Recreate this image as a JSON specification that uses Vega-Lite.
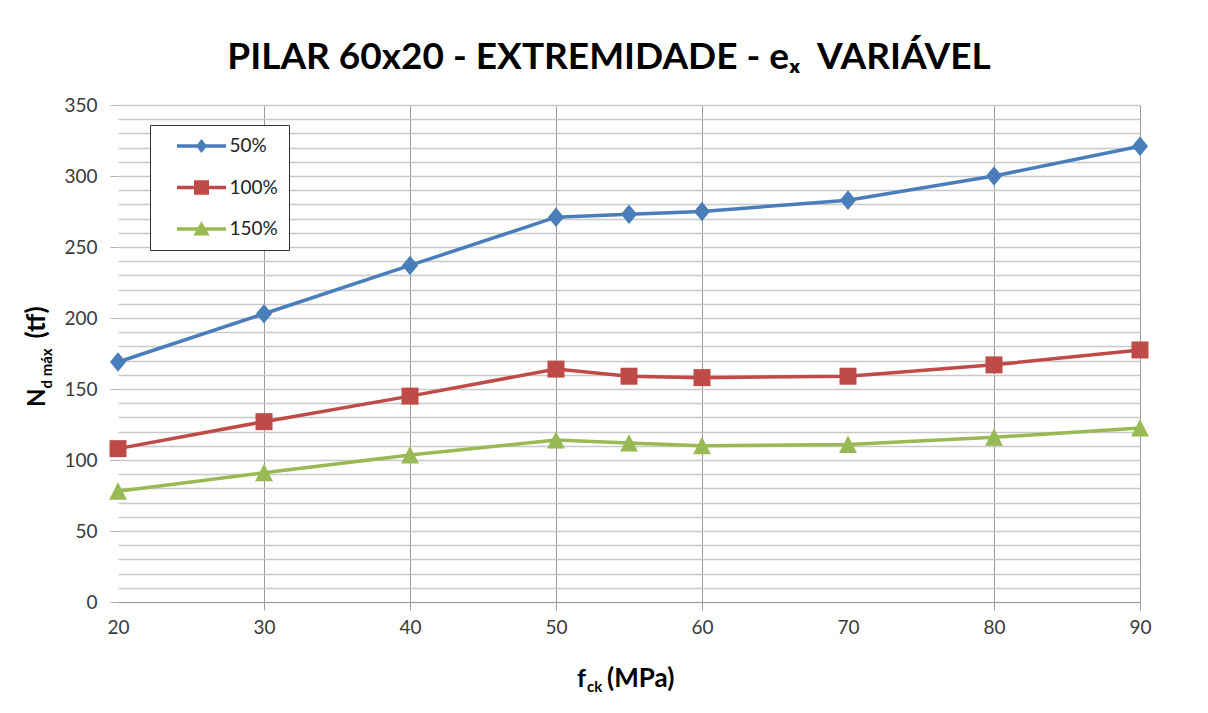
{
  "$schema": "https://vega.github.io/schema/vega-lite/v6.json",
  "width": 1022,
  "height": 497,
  "autosize": {"type": "none"},
  "padding": {"left": 118, "top": 105, "right": 68, "bottom": 111},
  "background": "white",
  "config": {
    "view": {"stroke": null},
    "font": "Lato",
    "axisX": {
      "grid": true, "gridColor": "#9a9a9a", "gridWidth": 1,
      "domain": true, "domainColor": "#a0a0a0", "domainWidth": 1,
      "ticks": true, "tickSize": 8, "tickColor": "#a0a0a0",
      "labelFont": "Lato", "labelFontSize": 19, "labelColor": "#3a3a3a",
      "labelPadding": 8, "labelFlush": false, "labelOverlap": false
    },
    "axisY": {
      "grid": true, "gridColor": "#c8c8c8", "gridWidth": 1.5,
      "domain": false,
      "ticks": true, "tickSize": 8, "tickColor": "#b0b0b0",
      "labelFont": "Lato", "labelFontSize": 19, "labelColor": "#3a3a3a",
      "labelPadding": 13, "labelOverlap": false
    }
  },
  "title": {
    "text": "PILAR 60x20 - EXTREMIDADE - eₓ \u00a0VARIÁVEL",
    "font": "Lato", "fontSize": 37, "fontWeight": "bold", "color": "#000000",
    "anchor": "middle", "frame": "group", "baseline": "alphabetic", "offset": -10, "dx": -20
  },
  "data": {"values": [
    {"fck": 20, "N": 169, "serie": "50%"},
    {"fck": 30, "N": 203, "serie": "50%"},
    {"fck": 40, "N": 237, "serie": "50%"},
    {"fck": 50, "N": 271, "serie": "50%"},
    {"fck": 55, "N": 273, "serie": "50%"},
    {"fck": 60, "N": 275, "serie": "50%"},
    {"fck": 70, "N": 283, "serie": "50%"},
    {"fck": 80, "N": 300, "serie": "50%"},
    {"fck": 90, "N": 321, "serie": "50%"},
    {"fck": 20, "N": 108, "serie": "100%"},
    {"fck": 30, "N": 127, "serie": "100%"},
    {"fck": 40, "N": 145, "serie": "100%"},
    {"fck": 50, "N": 164, "serie": "100%"},
    {"fck": 55, "N": 159, "serie": "100%"},
    {"fck": 60, "N": 158, "serie": "100%"},
    {"fck": 70, "N": 159, "serie": "100%"},
    {"fck": 80, "N": 167, "serie": "100%"},
    {"fck": 90, "N": 177.5, "serie": "100%"},
    {"fck": 20, "N": 78, "serie": "150%"},
    {"fck": 30, "N": 91, "serie": "150%"},
    {"fck": 40, "N": 103.5, "serie": "150%"},
    {"fck": 50, "N": 114, "serie": "150%"},
    {"fck": 55, "N": 112, "serie": "150%"},
    {"fck": 60, "N": 110, "serie": "150%"},
    {"fck": 70, "N": 111, "serie": "150%"},
    {"fck": 80, "N": 116, "serie": "150%"},
    {"fck": 90, "N": 122.5, "serie": "150%"}
  ]},
  "layer": [
    {
      "encoding": {
        "x": {"field": "fck", "type": "quantitative",
          "scale": {"domain": [20, 90], "nice": false, "zero": false},
          "axis": {"title": null, "values": [20, 30, 40, 50, 60, 70, 80, 90],
            "gridOpacity": {"condition": {"test": "datum.value === 20 || datum.value === 70", "value": 0}, "value": 1},
            "tickOpacity": {"condition": {"test": "datum.value === 20 || datum.value === 70", "value": 0}, "value": 1}}
        },
        "y": {"field": "N", "type": "quantitative",
          "scale": {"domain": [0, 350], "nice": false, "zero": true},
          "axis": {"title": null,
            "values": [0, 10, 20, 30, 40, 50, 60, 70, 80, 90, 100, 110, 120, 130, 140, 150, 160, 170, 180, 190, 200, 210, 220, 230, 240, 250, 260, 270, 280, 290, 300, 310, 320, 330, 340, 350],
            "labelExpr": "datum.value % 50 === 0 ? datum.label : ''",
            "tickOpacity": {"condition": {"test": "datum.value % 50 === 0", "value": 1}, "value": 0}}
        }
      },
      "layer": [
        {
          "mark": {"type": "line", "strokeWidth": 3.5},
          "encoding": {
            "color": {"field": "serie", "type": "nominal",
              "scale": {"domain": ["50%", "100%", "150%"], "range": ["#4A7EBB", "#BE4B48", "#98B954"]},
              "legend": {
                "title": null,
                "orient": "none", "legendX": 32, "legendY": 20,
                "padding": 11,
                "strokeColor": "#333333", "fillColor": "#ffffff",
                "symbolSize": 400, "symbolStrokeWidth": 0, "symbolOffset": 30.5,
                "rowPadding": 21.5, "labelOffset": 18,
                "labelFont": "Lato", "labelFontSize": 19, "labelColor": "#222222",
                "labelExpr": "datum.label + '\u00a0\u00a0\u00a0\u00a0\u00a0\u00a0\u00a0\u00a0'",
                "encode": {"symbols": {"update": {
                  "shape": {"signal": "datum.value === '50%' ? 'M-2.45,-0.17L2.45,-0.17L2.45,0.17L-2.45,0.17Z M0,-0.7L0.55,0L0,0.7L-0.55,0Z' : datum.value === '100%' ? 'M-2.45,-0.17L2.45,-0.17L2.45,0.17L-2.45,0.17Z M-0.75,-0.72L0.75,-0.72L0.75,0.72L-0.75,0.72Z' : 'M-2.45,-0.17L2.45,-0.17L2.45,0.17L-2.45,0.17Z M0,-0.78L0.82,0.66L-0.82,0.66Z'"},
                  "fill": {"scale": "color", "field": "value"},
                  "fillOpacity": {"value": 1},
                  "stroke": {"value": "transparent"},
                  "strokeWidth": {"value": 0},
                  "opacity": {"value": 1}
                }}}
              }
            }
          }
        },
        {
          "transform": [{"filter": "datum.serie === '50%'"}],
          "mark": {"type": "point", "filled": true, "opacity": 1, "size": 289, "shape": "M0,-1.15L0.95,0L0,1.15L-0.95,0Z"},
          "encoding": {"color": {"field": "serie", "type": "nominal"}}
        },
        {
          "transform": [{"filter": "datum.serie === '100%'"}],
          "mark": {"type": "point", "filled": true, "opacity": 1, "size": 289, "shape": "square"},
          "encoding": {"color": {"field": "serie", "type": "nominal"}}
        },
        {
          "transform": [{"filter": "datum.serie === '150%'"}],
          "mark": {"type": "point", "filled": true, "opacity": 1, "size": 289, "shape": "M0,-1.05L1.05,1L-1.05,1Z"},
          "encoding": {"color": {"field": "serie", "type": "nominal"}}
        }
      ]
    },
    {
      "data": {"values": [{}]},
      "encoding": {
        "x": {"datum": 55, "type": "quantitative",
          "axis": {"title": null, "values": [20, 30, 40, 50, 60, 70, 80, 90],
            "gridOpacity": {"condition": {"test": "datum.value === 20 || datum.value === 70", "value": 0}, "value": 1},
            "tickOpacity": {"condition": {"test": "datum.value === 20 || datum.value === 70", "value": 0}, "value": 1}}
        },
        "y": {"datum": 0, "type": "quantitative",
          "axis": {"title": null,
            "values": [0, 10, 20, 30, 40, 50, 60, 70, 80, 90, 100, 110, 120, 130, 140, 150, 160, 170, 180, 190, 200, 210, 220, 230, 240, 250, 260, 270, 280, 290, 300, 310, 320, 330, 340, 350],
            "labelExpr": "datum.value % 50 === 0 ? datum.label : ''",
            "tickOpacity": {"condition": {"test": "datum.value % 50 === 0", "value": 1}, "value": 0}}
        }
      },
      "layer": [
        {"mark": {"type": "text", "text": "f", "font": "Lato", "fontSize": 25, "fontWeight": "bold", "align": "left", "baseline": "alphabetic", "dx": -52, "dy": 85, "color": "#000000"}},
        {"mark": {"type": "text", "text": "ck", "font": "Lato", "fontSize": 15, "fontWeight": "bold", "align": "left", "baseline": "alphabetic", "dx": -42, "dy": 90, "color": "#000000"}},
        {"mark": {"type": "text", "text": "(MPa)", "font": "Lato", "fontSize": 26, "fontWeight": "bold", "align": "left", "baseline": "alphabetic", "dx": -22, "dy": 85, "color": "#000000"}}
      ]
    },
    {
      "data": {"values": [{}]},
      "encoding": {
        "x": {"datum": 20, "type": "quantitative",
          "axis": {"title": null, "values": [20, 30, 40, 50, 60, 70, 80, 90],
            "gridOpacity": {"condition": {"test": "datum.value === 20 || datum.value === 70", "value": 0}, "value": 1},
            "tickOpacity": {"condition": {"test": "datum.value === 20 || datum.value === 70", "value": 0}, "value": 1}}
        },
        "y": {"datum": 175, "type": "quantitative",
          "axis": {"title": null,
            "values": [0, 10, 20, 30, 40, 50, 60, 70, 80, 90, 100, 110, 120, 130, 140, 150, 160, 170, 180, 190, 200, 210, 220, 230, 240, 250, 260, 270, 280, 290, 300, 310, 320, 330, 340, 350],
            "labelExpr": "datum.value % 50 === 0 ? datum.label : ''",
            "tickOpacity": {"condition": {"test": "datum.value % 50 === 0", "value": 1}, "value": 0}}
        }
      },
      "layer": [
        {"mark": {"type": "text", "text": "N", "font": "Lato", "fontSize": 24, "fontWeight": "bold", "align": "left", "baseline": "alphabetic", "angle": 270, "dx": -53.5, "dy": -73, "color": "#000000"}},
        {"mark": {"type": "text", "text": "d máx", "font": "Lato", "fontSize": 15, "fontWeight": "bold", "align": "left", "baseline": "alphabetic", "angle": 270, "dx": -35, "dy": -66, "color": "#000000"}},
        {"mark": {"type": "text", "text": "(tf)", "font": "Lato", "fontSize": 26, "fontWeight": "bold", "align": "left", "baseline": "alphabetic", "angle": 270, "dx": 15, "dy": -73, "color": "#000000"}}
      ]
    }
  ]
}
